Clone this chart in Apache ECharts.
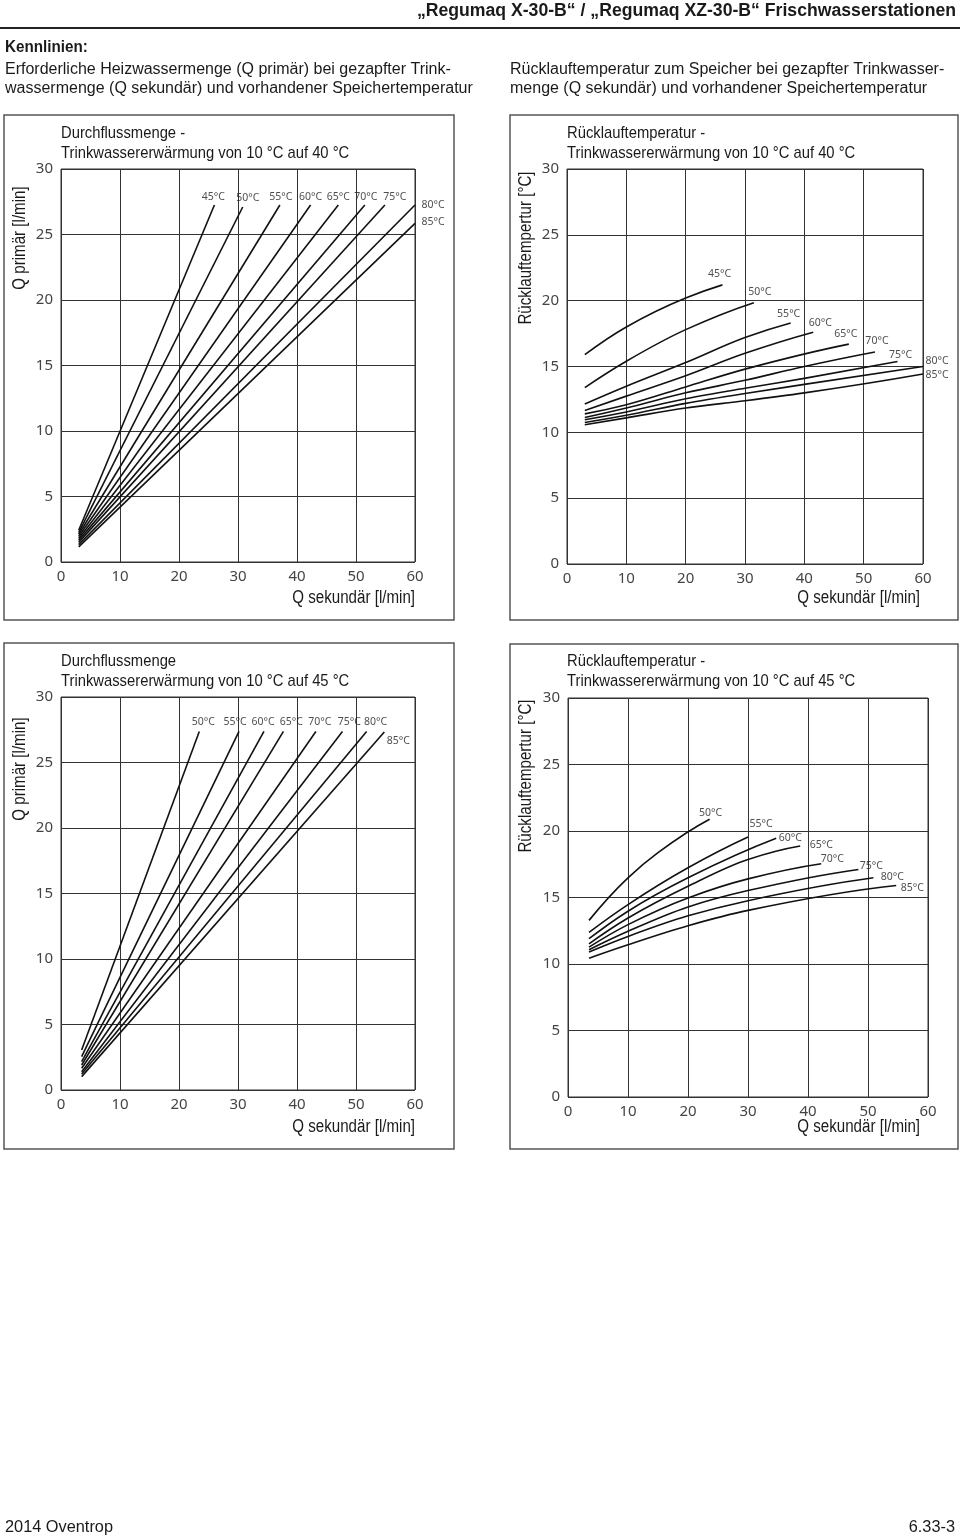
<!DOCTYPE html>
<html><head><meta charset="utf-8">
<script src="https://cdn.jsdelivr.net/npm/echarts@6/dist/echarts.min.js"></script>
<style>html,body{margin:0;padding:0;background:#fff}#c{width:960px;height:1540px}</style>
</head><body><div id="c"></div><script>
// ---------- data ----------
const xTicks = [0, 10, 20, 30, 40, 50, 60];
const yTicks = [0, 5, 10, 15, 20, 25, 30];
const temps40 = ['45°C', '50°C', '55°C', '60°C', '65°C', '70°C', '75°C', '80°C', '85°C'];
const temps45 = ['50°C', '55°C', '60°C', '65°C', '70°C', '75°C', '80°C', '85°C'];

// Durchflussmenge 10 -> 40 °C : [Q sekundär, Q primär]
const primary40 = [
  [[3, 2.42], [26.0, 27.25]],
  [[3, 2.25], [30.8, 27.1]],
  [[3, 2.1], [37.1, 27.25]],
  [[3, 1.95], [42.3, 27.25]],
  [[3, 1.8], [47.0, 27.25]],
  [[3, 1.65], [51.5, 27.25]],
  [[3, 1.5], [54.9, 27.25]],
  [[3, 1.33], [60, 27.25]],
  [[3, 1.15], [60, 25.85]]
];
// Rücklauftemperatur 10 -> 40 °C : [Q sekundär, T Rücklauf]
const return40 = [
  [[3, 15.9], [10, 18.0], [20, 20.2], [26.2, 21.2]],
  [[3, 13.4], [10, 15.4], [20, 17.8], [31.5, 19.85]],
  [[3, 12.15], [10, 13.5], [20, 15.3], [30, 17.2], [37.7, 18.3]],
  [[3, 11.65], [10, 12.75], [20, 14.3], [30, 16.0], [41.5, 17.6]],
  [[3, 11.4], [10, 12.1], [20, 13.45], [30, 14.8], [47.5, 16.7]],
  [[3, 11.13], [10, 11.85], [20, 13.0], [30, 13.95], [40, 15.0], [51.9, 16.1]],
  [[3, 10.96], [10, 11.55], [20, 12.55], [30, 13.35], [40, 14.1], [55.7, 15.38]],
  [[3, 10.75], [10, 11.3], [20, 12.2], [30, 12.95], [40, 13.64], [60, 15.0]],
  [[3, 10.58], [10, 11.1], [20, 11.85], [30, 12.4], [40, 13.0], [60, 14.43]]
];
// Durchflussmenge 10 -> 45 °C
const primary45 = [
  [[3.5, 3.06], [23.44, 27.37]],
  [[3.5, 2.55], [30.17, 27.37]],
  [[3.5, 2.17], [34.4, 27.37]],
  [[3.5, 1.91], [37.7, 27.37]],
  [[3.5, 1.66], [43.2, 27.37]],
  [[3.5, 1.4], [47.7, 27.37]],
  [[3.5, 1.22], [51.8, 27.37]],
  [[3.5, 1.02], [54.8, 27.33]]
];
// Rücklauftemperatur 10 -> 45 °C
const return45 = [
  [[3.5, 13.28], [10, 16.48], [15, 18.37], [23.6, 20.88]],
  [[3.5, 12.38], [10, 14.47], [20, 17.24], [30, 19.55]],
  [[3.5, 11.9], [10, 13.97], [20, 16.48], [34.7, 19.45]],
  [[3.5, 11.52], [10, 13.46], [20, 15.85], [30, 17.86], [38.7, 18.87]],
  [[3.5, 11.27], [10, 12.96], [20, 14.97], [30, 16.4], [42.2, 17.54]],
  [[3.5, 11.07], [10, 12.46], [20, 14.29], [30, 15.52], [48.4, 17.11]],
  [[3.5, 10.9], [10, 12.07], [20, 13.62], [30, 14.76], [50.9, 16.48]],
  [[3.5, 10.44], [10, 11.45], [20, 12.88], [30, 14.03], [54.7, 15.9]]
];

// ---------- styling ----------
const SANS = '"Liberation Sans", Arial, sans-serif';
const TICK = '"Noto Sans", "DejaVu Sans", sans-serif';
const INK = '#1a1a1a';
const NARROWX = 0.87;
const CURVE_STYLE = {fill: 'none', stroke: '#111', lineWidth: 1.6};

// label offsets (px) of curve labels relative to curve end
const off1 = [[-1,-8],[5,-9],[1,-8],[0,-8],[0,-8],[1,-8],[10,-8],[18,0],[18,-1]];
const off2 = [[-3,-11],[6,-11],[-2,-9],[7,-9],[-3,-10],[2,-11],[3,-6],[14,-5],[14,1]];
const off3 = [[4,-9],[-4,-9],[-1,-9],[8,-9],[4,-9],[7,-9],[9,-9],[14,9]];
const off4 = [[1,-6],[13,-13],[14,0],[21,-1],[11,-5],[13,-3],[19,-1],[16,2]];

const panels = [
  {grid: {left: 61, top: 169, width: 354, height: 393}, curves: primary40, temps: temps40, offs: off1, smooth: false},
  {grid: {left: 567, top: 169, width: 356, height: 395}, curves: return40, temps: temps40, offs: off2, smooth: true},
  {grid: {left: 61, top: 697, width: 354, height: 393}, curves: primary45, temps: temps45, offs: off3, smooth: false},
  {grid: {left: 568, top: 698, width: 360, height: 399}, curves: return45, temps: temps45, offs: off4, smooth: true}
];

// monotone cubic (Fritsch–Butland) bezier path through the read points, mapped with api.coord
function splinePath(pts, api) {
  const n = pts.length, h = [], d = [], m = [];
  for (let k = 0; k < n - 1; k++) {
    h[k] = pts[k + 1][0] - pts[k][0];
    d[k] = (pts[k + 1][1] - pts[k][1]) / h[k];
  }
  if (n === 2) { m[0] = m[1] = d[0]; }
  else {
    for (let k = 1; k < n - 1; k++) {
      if (d[k - 1] * d[k] <= 0) m[k] = 0;
      else m[k] = 3 * (h[k - 1] + h[k]) / ((2 * h[k] + h[k - 1]) / d[k - 1] + (h[k] + 2 * h[k - 1]) / d[k]);
    }
    const endSlope = (h0, h1, d0, d1) => {
      let s = ((2 * h0 + h1) * d0 - h0 * d1) / (h0 + h1);
      if (Math.sign(s) !== Math.sign(d0)) s = 0;
      else if (Math.sign(d0) !== Math.sign(d1) && Math.abs(s) > Math.abs(3 * d0)) s = 3 * d0;
      return s;
    };
    m[0] = endSlope(h[0], h[1], d[0], d[1]);
    m[n - 1] = endSlope(h[n - 2], h[n - 3], d[n - 2], d[n - 3]);
  }
  const p0 = api.coord(pts[0]);
  let path = 'M' + p0[0] + ' ' + p0[1];
  for (let k = 0; k < n - 1; k++) {
    const t = h[k] / 3;
    const a = api.coord([pts[k][0] + t, pts[k][1] + m[k] * t]);
    const b = api.coord([pts[k + 1][0] - t, pts[k + 1][1] - m[k + 1] * t]);
    const c = api.coord(pts[k + 1]);
    path += ' C' + a[0] + ' ' + a[1] + ' ' + b[0] + ' ' + b[1] + ' ' + c[0] + ' ' + c[1];
  }
  return path;
}

const grids = [], xAxes = [], yAxes = [], series = [];
panels.forEach((p, gi) => {
  grids.push(Object.assign({show: true, borderColor: '#333', borderWidth: 1, backgroundColor: 'transparent'}, p.grid));
  xAxes.push({
    gridIndex: gi, type: 'value', min: xTicks[0], max: xTicks[xTicks.length - 1], interval: xTicks[1] - xTicks[0],
    axisLine: {show: false}, axisTick: {show: false},
    splitLine: {show: true, lineStyle: {color: '#333', width: 1}},
    axisLabel: {margin: 7, color: '#444', fontSize: 15, fontFamily: TICK}
  });
  yAxes.push({
    gridIndex: gi, type: 'value', min: yTicks[0], max: yTicks[yTicks.length - 1], interval: yTicks[1] - yTicks[0],
    axisLine: {show: false}, axisTick: {show: false},
    splitLine: {show: true, lineStyle: {color: '#333', width: 1}},
    axisLabel: {margin: 8, color: '#444', fontSize: 15, fontFamily: TICK}
  });
  p.curves.forEach((c, i) => {
    if (p.smooth) {
      series.push({
        type: 'custom', name: p.temps[i], xAxisIndex: gi, yAxisIndex: gi, data: c,
        encode: {x: 0, y: 1}, silent: true, animation: false, clip: false,
        renderItem: (params, api) => params.dataIndex === 0
          ? {type: 'path', shape: {pathData: splinePath(c, api)}, style: CURVE_STYLE}
          : null
      });
    } else {
      series.push({
        type: 'line', name: p.temps[i], xAxisIndex: gi, yAxisIndex: gi, data: c,
        symbol: 'none', showSymbol: false,
        lineStyle: {color: '#111', width: 1.6}, silent: true, animation: false, clip: false
      });
    }
  });
  series.push({
    type: 'scatter', xAxisIndex: gi, yAxisIndex: gi, symbolSize: 1, silent: true, animation: false,
    itemStyle: {color: 'rgba(0,0,0,0)'},
    label: {show: true, position: 'inside', formatter: '{b}', color: '#222', fontSize: 10.5, fontFamily: TICK},
    data: p.curves.map((c, i) => ({value: c[c.length - 1], name: p.temps[i], label: {offset: p.offs[i]}}))
  });
});

function txt(x, y, text, font, opt) {
  opt = opt || {};
  const el = {type: 'text', x: x, y: y, silent: true,
    style: Object.assign({text: text, font: font, fill: INK, align: 'left', verticalAlign: 'middle'}, opt.style || {})};
  if (opt.rotation !== undefined) el.rotation = opt.rotation;
  if (opt.scaleX !== undefined) el.scaleX = opt.scaleX;
  return el;
}
const T17 = '17px ' + SANS;
const N = {scaleX: NARROWX};
const graphic = [
  txt(956, 11, '„Regumaq X-30-B“ / „Regumaq XZ-30-B“ Frischwasserstationen', 'bold 18px ' + SANS, {scaleX: 0.98, style: {align: 'right'}}),
  {type: 'line', silent: true, shape: {x1: 0, y1: 28, x2: 960, y2: 28}, style: {stroke: '#222', lineWidth: 2}},
  txt(5, 48, 'Kennlinien:', 'bold 16px ' + SANS, {scaleX: 0.95}),
  txt(5, 70, 'Erforderliche Heizwassermenge (Q primär) bei gezapfter Trink-', '16px ' + SANS),
  txt(5, 89, 'wassermenge (Q sekundär) und vorhandener Speichertemperatur', '16px ' + SANS),
  txt(510, 70, 'Rücklauftemperatur zum Speicher bei gezapfter Trinkwasser-', '16px ' + SANS),
  txt(510, 89, 'menge (Q sekundär) und vorhandener Speichertemperatur', '16px ' + SANS),
  // panel frames
  {type: 'rect', silent: true, shape: {x: 4, y: 115, width: 450, height: 505}, style: {fill: 'none', stroke: '#555', lineWidth: 1.5}},
  {type: 'rect', silent: true, shape: {x: 510, y: 115, width: 448, height: 505}, style: {fill: 'none', stroke: '#555', lineWidth: 1.5}},
  {type: 'rect', silent: true, shape: {x: 4, y: 643, width: 450, height: 506}, style: {fill: 'none', stroke: '#555', lineWidth: 1.5}},
  {type: 'rect', silent: true, shape: {x: 510, y: 644, width: 448, height: 505}, style: {fill: 'none', stroke: '#555', lineWidth: 1.5}},
  // titles
  txt(61, 133, 'Durchflussmenge -', T17, N),
  txt(61, 153, 'Trinkwassererwärmung von 10 °C auf 40 °C', T17, N),
  txt(567, 133, 'Rücklauftemperatur -', T17, N),
  txt(567, 153, 'Trinkwassererwärmung von 10 °C auf 40 °C', T17, N),
  txt(61, 661, 'Durchflussmenge', T17, N),
  txt(61, 681, 'Trinkwassererwärmung von 10 °C auf 45 °C', T17, N),
  txt(567, 661, 'Rücklauftemperatur -', T17, N),
  txt(567, 681, 'Trinkwassererwärmung von 10 °C auf 45 °C', T17, N),
  // axis names
  txt(20, 238, 'Q primär [l/min]', '18px ' + SANS, {scaleX: 0.84, rotation: Math.PI / 2, style: {align: 'center'}}),
  txt(526, 248, 'Rücklauftempertur [°C]', '18px ' + SANS, {scaleX: 0.84, rotation: Math.PI / 2, style: {align: 'center'}}),
  txt(20, 769, 'Q primär [l/min]', '18px ' + SANS, {scaleX: 0.84, rotation: Math.PI / 2, style: {align: 'center'}}),
  txt(526, 776, 'Rücklauftempertur [°C]', '18px ' + SANS, {scaleX: 0.84, rotation: Math.PI / 2, style: {align: 'center'}}),
  txt(415, 598, 'Q sekundär [l/min]', '18px ' + SANS, {scaleX: 0.84, style: {align: 'right'}}),
  txt(920, 598, 'Q sekundär [l/min]', '18px ' + SANS, {scaleX: 0.84, style: {align: 'right'}}),
  txt(415, 1127, 'Q sekundär [l/min]', '18px ' + SANS, {scaleX: 0.84, style: {align: 'right'}}),
  txt(920, 1127, 'Q sekundär [l/min]', '18px ' + SANS, {scaleX: 0.84, style: {align: 'right'}}),
  // footer
  txt(5, 1527, '2014 Oventrop', '17px ' + SANS, {scaleX: 0.96}),
  txt(955, 1527, '6.33-3', '17px ' + SANS, {scaleX: 0.96, style: {align: 'right'}})
];

const chart = echarts.init(document.getElementById('c'), null, {renderer: 'canvas'});
chart.setOption({
  backgroundColor: '#fff', animation: false,
  grid: grids, xAxis: xAxes, yAxis: yAxes, series: series, graphic: graphic
});
</script></body></html>
